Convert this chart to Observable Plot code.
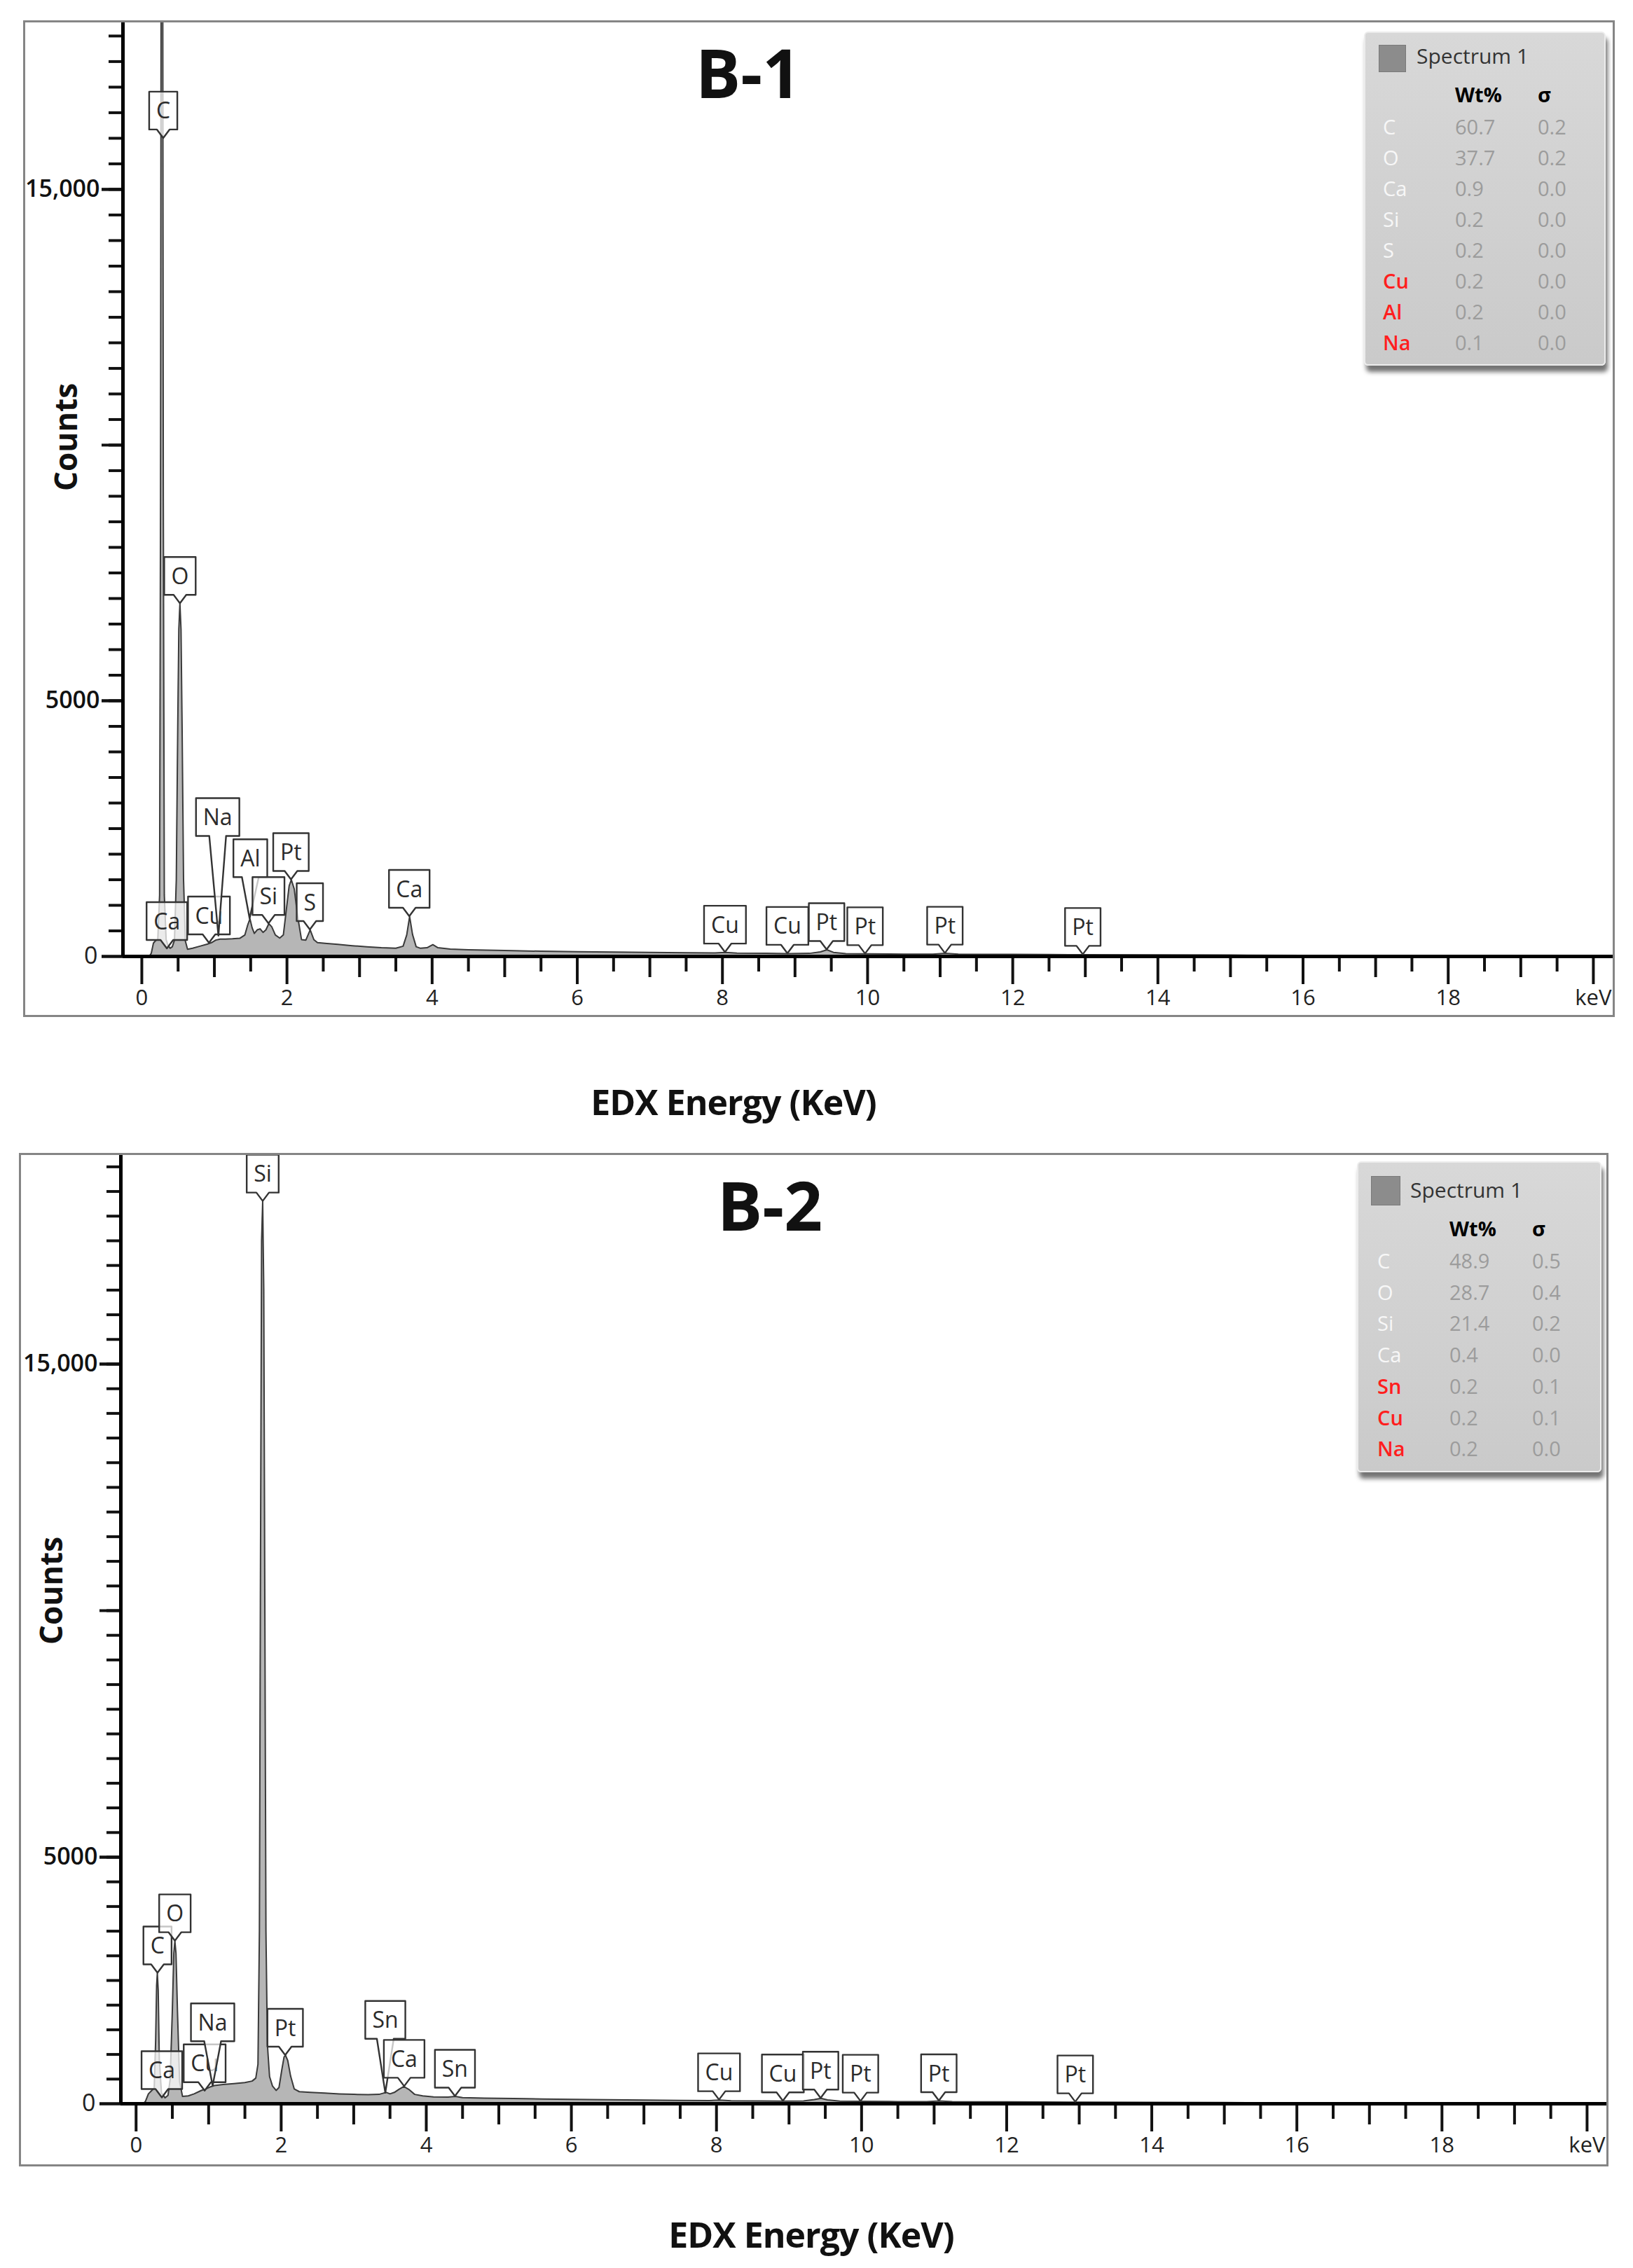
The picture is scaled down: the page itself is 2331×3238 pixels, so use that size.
<!DOCTYPE html>
<html><head><meta charset="utf-8">
<script src="https://cdn.jsdelivr.net/npm/d3@7"></script>
<script src="https://cdn.jsdelivr.net/npm/@observablehq/plot@0.6"></script>
<style>
body{margin:0;background:#fff;font-family:"Open Sans",sans-serif;}
#page{position:relative;width:2331px;height:3238px;overflow:hidden;background:#fff}
.plotbox{position:absolute;left:0}
.frame{position:absolute;border:3px solid #858585;box-sizing:border-box;pointer-events:none}
.title{position:absolute;font-weight:700;font-size:96px;transform:translate(-50%,-50%);color:#111;white-space:nowrap;line-height:1}
.xlabel{position:absolute;font-weight:700;font-size:50px;transform:translate(-50%,-50%);white-space:nowrap;color:#111;letter-spacing:-1px;line-height:1}
.ylabel{position:absolute;font-weight:700;font-size:44px;transform:translate(-50%,-50%) rotate(-90deg);white-space:nowrap;color:#111;line-height:1}
.legend{position:absolute;background:linear-gradient(#d8d8d8,#cacaca);border:2px solid #ececec;border-radius:6px;box-shadow:3px 9px 6px rgba(0,0,0,0.55);box-sizing:border-box}
.legend .t{position:absolute;font-size:29px;white-space:nowrap;transform:translateY(-50%);line-height:1}
.legend .sw{position:absolute;background:#8c8c8c;border:1px solid #7a7a7a}
</style></head>
<body><div id="page"></div>
<script>
// ---------- data ----------
const spectrumB1 = [[0.10,0],[0.13,60],[0.16,260],[0.19,310],[0.22,330],[0.245,1200],[0.258,9000],[0.268,22000],[0.277,26000],[0.286,22000],[0.296,9000],[0.31,1200],[0.335,330],[0.36,220],[0.39,160],[0.42,190],[0.45,320],[0.475,1500],[0.495,4500],[0.51,6400],[0.525,6900],[0.54,6400],[0.555,4500],[0.575,1500],[0.60,300],[0.63,140],[0.70,160],[0.80,200],[0.90,240],[0.96,270],[1.02,320],[1.08,340],[1.15,340],[1.25,345],[1.35,355],[1.42,420],[1.46,620],[1.49,735],[1.52,560],[1.55,450],[1.59,520],[1.63,540],[1.67,470],[1.71,520],[1.75,640],[1.79,580],[1.84,420],[1.90,360],[1.95,420],[1.99,900],[2.03,1380],[2.06,1500],[2.10,1320],[2.15,760],[2.20,330],[2.26,320],[2.32,520],[2.37,330],[2.42,270],[2.55,255],[2.70,235],[2.90,210],[3.10,190],[3.30,170],[3.50,160],[3.60,200],[3.65,420],[3.69,780],[3.73,430],[3.78,190],[3.84,160],[3.93,170],[4.01,230],[4.08,170],[4.25,145],[4.50,130],[5.00,115],[5.50,102],[6.00,92],[6.50,84],[7.00,78],[7.50,72],[7.90,68],[8.04,80],[8.20,66],[8.60,60],[8.90,56],[9.20,60],[9.35,90],[9.44,130],[9.53,80],[9.70,55],[10.0,50],[10.5,46],[10.9,46],[11.07,60],[11.25,46],[11.6,42],[12.0,40],[12.5,37],[13.0,34],[14.0,30],[15.0,26],[16.0,22],[17.0,19],[18.0,16],[19.0,13],[20.3,10]];

const spectrumB2 = [[0.10,0],[0.13,50],[0.17,200],[0.21,260],[0.25,320],[0.27,1300],[0.283,2400],[0.293,2650],[0.305,2300],[0.32,900],[0.35,220],[0.40,120],[0.44,170],[0.47,500],[0.50,1900],[0.52,3050],[0.535,3300],[0.55,3050],[0.57,1900],[0.60,450],[0.64,150],[0.72,160],[0.80,200],[0.90,270],[0.96,300],[1.02,340],[1.08,370],[1.20,390],[1.35,410],[1.50,430],[1.60,460],[1.65,520],[1.68,800],[1.70,3500],[1.715,11000],[1.73,17500],[1.745,18300],[1.76,16500],[1.775,10000],[1.79,3500],[1.81,1200],[1.84,550],[1.88,360],[1.93,270],[1.97,330],[2.01,700],[2.04,950],[2.06,980],[2.09,880],[2.13,560],[2.18,300],[2.25,245],[2.40,230],[2.60,215],[2.80,200],[3.00,190],[3.20,185],[3.35,190],[3.41,215],[3.45,230],[3.50,200],[3.56,230],[3.62,290],[3.69,350],[3.76,290],[3.84,190],[3.95,160],[4.10,140],[4.30,135],[4.40,150],[4.50,125],[4.80,115],[5.20,105],[5.60,96],[6.00,88],[6.50,80],[7.00,74],[7.50,68],[7.90,64],[8.04,76],[8.20,62],[8.60,57],[8.90,54],[9.20,58],[9.35,85],[9.44,110],[9.53,78],[9.70,52],[10.0,48],[10.5,44],[10.9,44],[11.07,56],[11.25,44],[11.6,40],[12.0,38],[12.5,35],[13.0,32],[14.0,28],[15.0,24],[16.0,20],[17.0,17],[18.0,14],[19.0,12],[20.3,9]];

// peak labels: element, energy (keV) and counts of the pointer tip; lift = counts of box bottom for long leaders
const peakLabelsB1 = [
  {el:"C", e:0.30, c:16000}, {el:"O", e:0.53, c:6900}, {el:"Ca", e:0.35, c:150},
  {el:"Cu", e:0.93, c:260}, {el:"Na", e:1.06, c:400, lift:2350, bx:1.05},
  {el:"Al", e:1.49, c:735, lift:1545, bx:1.50}, {el:"Si", e:1.75, c:640},
  {el:"Pt", e:2.06, c:1500}, {el:"S", e:2.32, c:520}, {el:"Ca", e:3.69, c:780},
  {el:"Cu", e:8.04, c:80}, {el:"Cu", e:8.90, c:56}, {el:"Pt", e:9.44, c:130},
  {el:"Pt", e:9.97, c:50}, {el:"Pt", e:11.07, c:60}, {el:"Pt", e:12.97, c:36}
];
const peakLabelsB2 = [
  {el:"Si", e:1.75, c:18300}, {el:"Ca", e:0.36, c:120}, {el:"C", e:0.30, c:2650},
  {el:"O", e:0.54, c:3300}, {el:"Cu", e:0.95, c:260},
  {el:"Na", e:1.06, c:360, lift:1260, bx:1.06}, {el:"Pt", e:2.06, c:980},
  {el:"Sn", e:3.44, c:215, lift:1310, bx:3.44}, {el:"Ca", e:3.70, c:350},
  {el:"Sn", e:4.40, c:150},
  {el:"Cu", e:8.04, c:76}, {el:"Cu", e:8.92, c:54}, {el:"Pt", e:9.44, c:110},
  {el:"Pt", e:9.99, c:48}, {el:"Pt", e:11.07, c:56}, {el:"Pt", e:12.95, c:34}
];

// legend tables
const legendB1Elements = ["C","O","Ca","Si","S","Cu","Al","Na"];
const legendB1Wt = [60.7,37.7,0.9,0.2,0.2,0.2,0.2,0.1];
const legendB1Sigma = [0.2,0.2,0.0,0.0,0.0,0.0,0.0,0.0];
const legendB1Flagged = ["Cu","Al","Na"];
const legendB2Elements = ["C","O","Si","Ca","Sn","Cu","Na"];
const legendB2Wt = [48.9,28.7,21.4,0.4,0.2,0.2,0.2];
const legendB2Sigma = [0.5,0.4,0.2,0.0,0.1,0.1,0.0];
const legendB2Flagged = ["Sn","Cu","Na"];

// ticks
const xMajorTicks = [0,2,4,6,8,10,12,14,16,18,20];
const xMajorLabels = ["0","2","4","6","8","10","12","14","16","18","keV"];
const xOddTicks = [1,3,5,7,9,11,13,15,17,19];
const xHalfTicks = [0.5,1.5,2.5,3.5,4.5,5.5,6.5,7.5,8.5,9.5,10.5,11.5,12.5,13.5,14.5,15.5,16.5,17.5,18.5,19.5];
const yLabelTicks = [5000, 15000];
const yLabelText = ["5000", "15,000"];
const yZeroTick = [0];
const yMajorTicks = [0, 5000, 10000, 15000];

// ---------- drawing ----------
const page = document.getElementById("page");

function el(tag, cls, style, text) {
  const n = document.createElement(tag);
  if (cls) n.className = cls;
  Object.assign(n.style, style || {});
  if (text != null) n.textContent = text;
  return n;
}

function scaleFn(plot, name) {
  const s = plot.scale(name);
  if (s && typeof s.apply === "function") return v => s.apply(v);
  return d3.scaleLinear().domain(s.domain).range(s.range);
}

function drawPanel(spec, labels, o) {
  const data = spec.map(([e, c]) => ({e, c}));
  const minorY = d3.range(500, o.yDomain[1], 500);
  const plot = Plot.plot({
    width: 2331, height: o.height,
    marginLeft: o.ml, marginRight: o.mr, marginTop: o.mt, marginBottom: o.mb,
    style: {fontFamily: "Open Sans", background: "transparent", overflow: "visible"},
    x: {domain: o.xDomain, axis: null},
    y: {domain: o.yDomain, axis: null},
    marks: [
      Plot.areaY(data, {x: "e", y: "c", fill: "#b6b6b6", clip: true}),
      Plot.lineY(data, {x: "e", y: "c", stroke: "#3a3a3a", strokeWidth: 2, clip: true}),
      Plot.axisX({ticks: xHalfTicks, tickSize: 22, tickFormat: () => "", strokeWidth: 4, stroke: "#111", label: null}),
      Plot.axisX({ticks: xOddTicks, tickSize: 30, tickFormat: () => "", strokeWidth: 4, stroke: "#111", label: null}),
      Plot.axisX({ticks: xMajorTicks, tickSize: 40, tickPadding: 7, strokeWidth: 4, stroke: "#111",
        tickFormat: d => xMajorLabels[xMajorTicks.indexOf(d)], fontSize: 31, fill: "#222", label: null}),
      Plot.axisY({ticks: minorY, tickSize: 20, tickFormat: () => "", strokeWidth: 4, stroke: "#111", label: null}),
      Plot.axisY({ticks: yMajorTicks, tickSize: 30, tickFormat: () => "", strokeWidth: 4, stroke: "#111", label: null}),
      Plot.axisY({ticks: yLabelTicks, tickSize: 30, tickPadding: 3, strokeWidth: 4, stroke: "#111",
        tickFormat: d => yLabelText[yLabelTicks.indexOf(d)], fontSize: 34, fontWeight: 600, fill: "#111", label: null}),
      Plot.axisY({ticks: yZeroTick, tickSize: 30, tickPadding: 6, strokeWidth: 4, stroke: "#111",
        tickFormat: d => String(d), fontSize: 34, fill: "#222", label: null}),
      Plot.ruleY([0], {stroke: "#000", strokeWidth: 5}),
      Plot.ruleX([o.xDomain[0]], {stroke: "#000", strokeWidth: 5})
    ]
  });
  const box = el("div", "plotbox", {top: o.top + "px"});
  box.appendChild(plot);
  page.appendChild(box);

  // peak labels (boxes with pointer), placed through the plot's scales
  const fx = scaleFn(plot, "x"), fy = scaleFn(plot, "y");
  const g = d3.select(plot).append("g").attr("font-family", "Open Sans").attr("font-size", 32);
  labels.forEach(d => {
    const tx = fx(d.e), ty = fy(d.c);
    const cx = d.bx != null ? fx(d.bx) : tx;
    const bottom = d.lift != null ? fy(d.lift) : ty - 12;
    const top = bottom - 54;
    const lg = g.append("g");
    const path = lg.append("path");
    const text = lg.append("text").attr("x", cx).attr("y", (top + bottom) / 2)
      .attr("text-anchor", "middle").attr("dy", "0.36em").attr("fill", "#2b2b2b").text(d.el);
    let tw = 0;
    try { tw = text.node().getComputedTextLength(); } catch (e) {}
    if (!tw) tw = d.el.length * 18;
    const w = tw + 20, nw = d.lift != null ? 12 : 9;
    path.attr("d", `M${cx - w/2},${top}H${cx + w/2}V${bottom}H${cx + nw}L${tx},${ty}L${cx - nw},${bottom}H${cx - w/2}Z`)
      .attr("fill", "rgba(255,255,255,0.72)").attr("stroke", "#333").attr("stroke-width", 2.4).attr("stroke-linejoin", "round");
  });

  // frame and texts
  page.appendChild(el("div", "frame", {left: o.frame[0] + "px", top: o.frame[1] + "px", width: o.frame[2] + "px", height: o.frame[3] + "px"}));
  page.appendChild(el("div", "title", {left: o.title[0] + "px", top: o.title[1] + "px"}, o.titleText));
  page.appendChild(el("div", "ylabel", {left: o.ylab[0] + "px", top: o.ylab[1] + "px"}, "Counts"));
  page.appendChild(el("div", "xlabel", {left: o.xlab[0] + "px", top: o.xlab[1] + "px"}, "EDX Energy (KeV)"));
}

function drawLegend(els, wts, sigs, flagged, L) {
  const lg = el("div", "legend", {left: L.box[0] + "px", top: L.box[1] + "px", width: L.box[2] + "px", height: L.box[3] + "px"});
  lg.appendChild(el("div", "sw", {left: L.sw[0] + "px", top: L.sw[1] + "px", width: L.sw[2] + "px", height: L.sw[2] + "px"}));
  lg.appendChild(el("div", "t", {left: L.spec[0] + "px", top: L.spec[1] + "px", color: "#333", fontSize: "30px"}, "Spectrum 1"));
  lg.appendChild(el("div", "t", {left: L.wtX + "px", top: L.head + "px", color: "#000", fontWeight: 700}, "Wt%"));
  lg.appendChild(el("div", "t", {left: L.sgX + "px", top: L.head + "px", color: "#000", fontWeight: 700}, "σ"));
  els.forEach((name, i) => {
    const y = L.row0 + i * L.step;
    const red = flagged.includes(name);
    lg.appendChild(el("div", "t", {left: L.elX + "px", top: y + "px", color: red ? "#ff1e1e" : "#f7f7f7", fontWeight: red ? 600 : 400}, name));
    lg.appendChild(el("div", "t", {left: L.wtX + "px", top: y + "px", color: "#9c9c9c"}, wts[i].toFixed(1)));
    lg.appendChild(el("div", "t", {left: L.sgX + "px", top: y + "px", color: "#9c9c9c"}, sigs[i].toFixed(1)));
  });
  page.appendChild(lg);
}

drawPanel(spectrumB1, peakLabelsB1, {
  top: 0, height: 1500, ml: 175, mr: 26, mt: 29, mb: 135,
  xDomain: [-0.26, 20.3], yDomain: [0, 18300],
  frame: [33, 29, 2272, 1423], title: [1068, 103], titleText: "B-1",
  ylab: [93, 624], xlab: [1047, 1573]
});
drawPanel(spectrumB2, peakLabelsB2, {
  top: 1600, height: 1500, ml: 172, mr: 35, mt: 46, mb: 97,
  xDomain: [-0.21, 20.3], yDomain: [0, 19275],
  frame: [27, 1646, 2269, 1447], title: [1099, 1720], titleText: "B-2",
  ylab: [72, 2271], xlab: [1158, 3190]
});

drawLegend(legendB1Elements, legendB1Wt, legendB1Sigma, legendB1Flagged, {
  box: [1947, 45, 345, 477], sw: [19, 17, 37], spec: [73, 33], head: 87,
  wtX: 128, sgX: 246, elX: 25, row0: 133, step: 44
});
drawLegend(legendB2Elements, legendB2Wt, legendB2Sigma, legendB2Flagged, {
  box: [1937, 1658, 349, 444], sw: [18, 19, 40], spec: [74, 39], head: 93,
  wtX: 130, sgX: 248, elX: 27, row0: 139, step: 44.7
});
</script>
</body></html>
